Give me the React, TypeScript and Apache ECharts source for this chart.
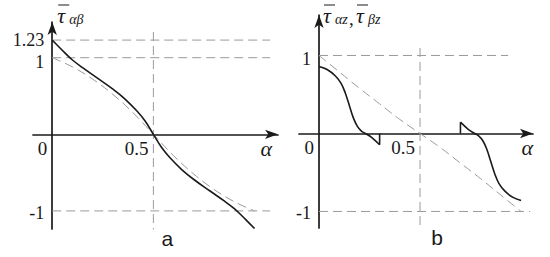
import React, { useEffect, useRef } from "react";
import * as echarts from "echarts";

// ---- data ----
// panel a
const alphaSolidA = [0, 0.03, 0.06, 0.1, 0.15, 0.22, 0.3, 0.36, 0.42, 0.46, 0.5, 0.54, 0.58, 0.64, 0.7, 0.78, 0.85, 0.9, 0.94, 0.97, 1.0];
const tauSolidA = [1.23, 1.15, 1.07, 0.97, 0.87, 0.74, 0.59, 0.46, 0.3, 0.17, 0, -0.17, -0.3, -0.46, -0.59, -0.74, -0.87, -0.97, -1.07, -1.15, -1.23];
const alphaDashA = [0, 0.1, 0.2, 0.3, 0.4, 0.5, 0.6, 0.7, 0.8, 0.9, 1.0];
const tauDashA = [1, 0.88, 0.72, 0.52, 0.28, 0, -0.28, -0.52, -0.72, -0.88, -1];
// panel b
const alphaSolidB1 = [0, 0.04, 0.08, 0.11, 0.13, 0.15, 0.17, 0.19, 0.21, 0.23, 0.26, 0.3];
const tauSolidB1 = [0.86, 0.82, 0.74, 0.64, 0.52, 0.36, 0.2, 0.09, 0.03, 0, -0.05, -0.145];
const alphaSolidB2 = [0.7, 0.74, 0.77, 0.79, 0.81, 0.83, 0.85, 0.87, 0.89, 0.92, 0.96, 1.0];
const tauSolidB2 = [0.145, 0.05, 0, -0.03, -0.09, -0.2, -0.36, -0.52, -0.64, -0.74, -0.82, -0.86];
const jumpB1 = [[0.3, -0.145], [0.3, 0]];
const jumpB2 = [[0.7, 0], [0.7, 0.145]];
const alphaDashB = [0, 0.1, 0.2, 0.3, 0.4, 0.5, 0.6, 0.7, 0.8, 0.9, 1.0];
const tauDashB = [1, 0.79, 0.58, 0.38, 0.18, 0, -0.18, -0.38, -0.58, -0.79, -1];

// guide (dashed reference) lines
const guidesA = [
  [[0, 1.23], [1.077, 1.23]],
  [[0, 1], [1.077, 1]],
  [[0, -1], [1.077, -1]],
  [[0.5, 1.335], [0.5, -1.25]],
];
const guidesB = [
  [[0, 1], [0.936, 1]],
  [[0, -1], [1.045, -1]],
  [[0.5, 1.096], [0.5, -1.237]],
];

// tick labels
const xTicks = [0, 0.5];
const yTicksA = [1.23, 1, -1];
const yTicksB = [1, -1];
const panelLabels = ["a", "b"];

// axis ranges
const rangeA = { xMin: -0.095, xMax: 1.116, yMin: -1.236, yMax: 1.466 };
const rangeB = { xMin: -0.099, xMax: 1.059, yMin: -1.212, yMax: 1.519 };

const SERIF = "Liberation Serif, serif";
const SANS = "Liberation Sans, sans-serif";
const INK = "#1a1a1a";

const zip = (xs: number[], ys: number[]) => xs.map((x, i) => [x, ys[i]]);

function axes(idx: number, r: typeof rangeA) {
  const line = { show: true, onZero: true, symbol: ["none", "arrow"], symbolSize: [7, 13], lineStyle: { color: INK, width: 1.7 } };
  const x = {
    type: "value", gridIndex: idx, min: r.xMin, max: r.xMax,
    axisLine: line, axisTick: { show: false }, splitLine: { show: false }, axisLabel: { show: false },
  };
  const y = {
    type: "value", gridIndex: idx, min: r.yMin, max: r.yMax,
    axisLine: line, axisTick: { show: false }, splitLine: { show: false }, axisLabel: { show: false },
  };
  return { x, y };
}

const dashed = { color: "#9a9a9a", width: 1, type: [9, 5] };
const solid = { color: INK, width: 1.6 };

function lineSeries(idx: number, data: number[][], style: any, smooth: number | boolean, z = 3) {
  return {
    type: "line", xAxisIndex: idx, yAxisIndex: idx, data, showSymbol: false, symbol: "none",
    smooth, lineStyle: style, z, silent: true,
  };
}

export default function App() {
  const ref = useRef<HTMLDivElement>(null);
  useEffect(() => {
    if (!ref.current) return;
    const chart = echarts.init(ref.current, undefined, { renderer: "svg" });
    const a = axes(0, rangeA);
    const b = axes(1, rangeB);
    const series: any[] = [];
    guidesA.forEach((g) => series.push(lineSeries(0, g, dashed, false, 1)));
    guidesB.forEach((g) => series.push(lineSeries(1, g, dashed, false, 1)));
    series.push(lineSeries(0, zip(alphaDashA, tauDashA), dashed, 0.4, 2));
    series.push(lineSeries(0, zip(alphaSolidA, tauSolidA), solid, 0.4, 3));
    series.push(lineSeries(1, zip(alphaDashB, tauDashB), dashed, 0.4, 2));
    series.push(lineSeries(1, zip(alphaSolidB1, tauSolidB1), solid, 0.35, 3));
    series.push(lineSeries(1, zip(alphaSolidB2, tauSolidB2), solid, 0.35, 3));
    series.push(lineSeries(1, jumpB1, solid, false, 3));
    series.push(lineSeries(1, jumpB2, solid, false, 3));

    chart.setOption({
      animation: false,
      grid: [
        { left: 33, top: 22, width: 245, height: 207 },
        { left: 299, top: 15, width: 234, height: 213 },
      ],
      xAxis: [a.x, b.x],
      yAxis: [a.y, b.y],
      series,
    });

    const txt = (x: number, y: number, text: string, size: number, opts: any = {}) => ({
      type: "text", x, y, silent: true,
      style: { text, fontSize: size, fontFamily: SERIF, fill: INK, align: "left", verticalAlign: "middle", lineHeight: Math.round(size * 0.8), ...opts },
    });
    const over = (x1: number, x2: number, y: number) => ({
      type: "line", silent: true, shape: { x1, y1: y, x2, y2: y }, style: { stroke: INK, lineWidth: 1 },
    });
    const px = (g: number, x: number, y: number) => chart.convertToPixel({ gridIndex: g }, [x, y]) as number[];

    const graphic: any[] = [];
    // tick labels, placed through each panel's scales
    [yTicksA, yTicksB].forEach((ticks, g) => {
      ticks.forEach((v) => {
        const p = px(g, 0, v);
        const dy = v > 1.1 ? 0 : v > 0 ? 4 : 2;
        graphic.push(txt(p[0] - 8, p[1] + dy, String(v), 18, { align: "right" }));
      });
      xTicks.forEach((v) => {
        const p = px(g, v, 0);
        graphic.push(txt(p[0] - 5, p[1] + 14, String(v), 19, { align: "right" }));
      });
    });

    const topA = px(0, 0, rangeA.yMax);
    const topB = px(1, 0, rangeB.yMax);
    const endA = px(0, rangeA.xMax, 0);
    const endB = px(1, rangeB.xMax, 0);
    const botA = px(0, 0.5, rangeA.yMin);
    const botB = px(1, 0.5, rangeB.yMin);

    const ax = topA[0] + 5, ay = topA[1] - 7;
    const bx = topB[0] + 4, by = topB[1];
    graphic.push(
      txt(ax, ay, "τ", 22, { fontStyle: "italic" }),
      over(ax + 1, ax + 12, ay - 10),
      txt(ax + 12, ay + 4, "αβ", 14, { fontStyle: "italic" }),
      txt(bx, by, "τ", 22, { fontStyle: "italic" }),
      over(bx + 1, bx + 12, by - 10),
      txt(bx + 12, by + 4, "αz", 14, { fontStyle: "italic" }),
      txt(bx + 26, by + 3, ",", 19),
      txt(bx + 33, by, "τ", 22, { fontStyle: "italic" }),
      over(bx + 34, bx + 45, by - 10),
      txt(bx + 45, by + 4, "βz", 14, { fontStyle: "italic" }),
      txt(endA[0] - 6, endA[1] + 14, "α", 22, { fontStyle: "italic", align: "right" }),
      txt(endB[0], endB[1] + 14, "α", 22, { fontStyle: "italic", align: "right" }),
      txt(botA[0] + 14, botA[1] + 9, panelLabels[0], 21, { fontFamily: SANS, align: "center" }),
      txt(botB[0] + 17, botB[1] + 9, panelLabels[1], 21, { fontFamily: SANS, align: "center" }),
    );
    chart.setOption({ graphic });
    return () => chart.dispose();
  }, []);
  return <div ref={ref} style={{ position: "fixed", left: 0, top: 0, width: 550, height: 257, background: "#fff" }} />;
}
